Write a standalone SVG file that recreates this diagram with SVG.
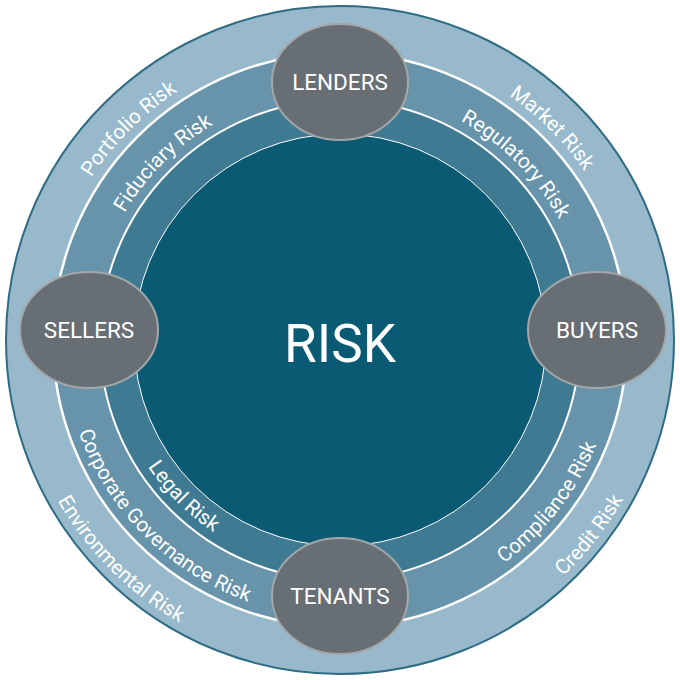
<svg xmlns="http://www.w3.org/2000/svg" width="680" height="680" viewBox="0 0 680 680">
<style>
.lbl{font-family:Roboto,"Liberation Sans",sans-serif;font-size:20.5px;fill:#fff;text-anchor:middle}
.node ellipse{fill:#676e74;stroke:#a3a7aa;stroke-width:2}
.node text{font-family:Roboto,"Liberation Sans",sans-serif;font-size:22.5px;fill:#fff;text-anchor:middle}
</style>
<defs>
<path id="pPort" d="M53.1,416.9 A297,297 0 0 1 416.9,53.1"/>
<path id="pFid" d="M98.5,404.7 A250,250 0 0 1 404.7,98.5"/>
<path id="pMkt" d="M263.1,53.1 A297,297 0 0 1 626.9,416.9"/>
<path id="pReg" d="M275.3,98.5 A250,250 0 0 1 581.5,404.7"/>
<path id="pComp" d="M301.3,615.3 A279,279 0 0 0 597.7,235.9"/>
<path id="pCred" d="M294.8,661.8 A325,325 0 0 0 641.3,218.3"/>
<path id="pLegal" d="M116.9,280.2 A232,232 0 0 0 399.8,563.1"/>
<path id="pCorp" d="M71.5,268 A279,279 0 0 0 412,608.5"/>
<path id="pEnv" d="M26.1,255.9 A325,325 0 0 0 424.1,653.9"/>
</defs>
<g id="rings">
<circle cx="340" cy="340" r="334" fill="#97b9cb" stroke="#2e6b85" stroke-width="2"/>
<circle cx="340" cy="340" r="287" fill="#6794ab" stroke="#fff" stroke-width="2.5"/>
<circle cx="340" cy="340" r="240" fill="#3f7a93" stroke="#fff" stroke-width="2"/>
<circle cx="340" cy="340" r="206" fill="#0b5a73" stroke="#fff" stroke-width="1"/>
</g>
<g id="labels">
<text class="lbl"><textPath href="#pPort" startOffset="50%">Portfolio Risk</textPath></text>
<text class="lbl"><textPath href="#pFid" startOffset="50%">Fiduciary Risk</textPath></text>
<text class="lbl"><textPath href="#pMkt" startOffset="50%">Market Risk</textPath></text>
<text class="lbl"><textPath href="#pReg" startOffset="50%">Regulatory Risk</textPath></text>
<text class="lbl"><textPath href="#pComp" startOffset="50%">Compliance Risk</textPath></text>
<text class="lbl"><textPath href="#pCred" startOffset="50%">Credit Risk</textPath></text>
<text class="lbl"><textPath href="#pLegal" startOffset="50%">Legal Risk</textPath></text>
<text class="lbl"><textPath href="#pCorp" startOffset="50%">Corporate Governance Risk</textPath></text>
<text class="lbl"><textPath href="#pEnv" startOffset="50%">Environmental Risk</textPath></text>
</g>
<g id="risk"><text x="340" y="348" font-family="Roboto,Liberation Sans,sans-serif" font-size="53" fill="#fff" text-anchor="middle" dominant-baseline="middle">RISK</text></g>
<g id="lenders" class="node"><ellipse cx="340" cy="82" rx="68" ry="58"/><text x="340" y="90">LENDERS</text></g>
<g id="sellers" class="node"><ellipse cx="89" cy="330" rx="69" ry="58"/><text x="89" y="338">SELLERS</text></g>
<g id="buyers" class="node"><ellipse cx="597" cy="330" rx="69" ry="58"/><text x="597" y="338">BUYERS</text></g>
<g id="tenants" class="node"><ellipse cx="340" cy="596" rx="68" ry="58"/><text x="340" y="604">TENANTS</text></g>
<g id="connectors"/>
</svg>
